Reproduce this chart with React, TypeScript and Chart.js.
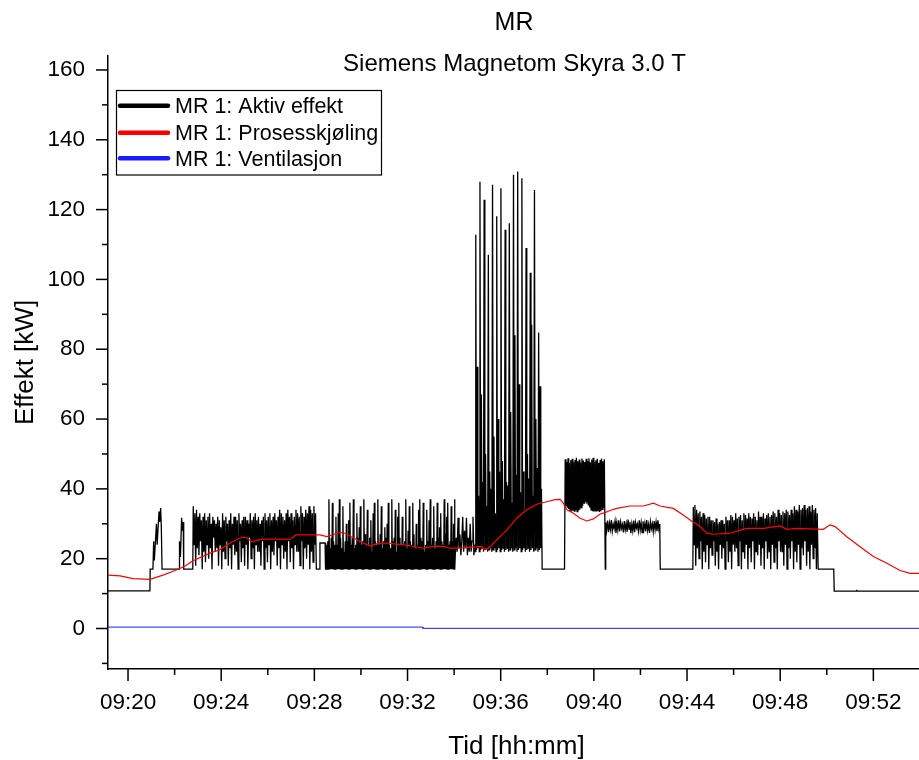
import { useEffect, useRef } from "react";
import { Chart, registerables } from "chart.js";

Chart.register(...registerables);

// Tid er angitt i minutter etter kl. 09:00
const xMin = 19.14;
const xMax = 53.96;
const yMin = -11.6;
const yMax = 164;

const tittel = "MR";
const undertittel = "Siemens Magnetom Skyra 3.0 T";
const xTittel = "Tid [hh:mm]";
const yTittel = "Effekt [kW]";
const serieNavn = ["MR 1: Aktiv effekt", "MR 1: Prosesskjøling", "MR 1: Ventilasjon"];
const serieFarger = ["#000000", "#ff0000", "#1a1aff"];

const xTikkMinutter = [20, 24, 28, 32, 36, 40, 44, 48, 52];
const xHjelpeMinutter = [22, 26, 30, 34, 38, 42, 46, 50];
const yTikkVerdier = [0, 20, 40, 60, 80, 100, 120, 140, 160];
const yHjelpeVerdier = [-10, 10, 30, 50, 70, 90, 110, 130, 150];

// Aktiv effekt, rolige partier: [tid, kW]
const aktivRolig: [number, number][] = [
  [19.14, 10.8], [20.94, 10.8], [20.95, 17.0], [21.07, 17.0], [21.1, 25.0], [21.13, 19.5],
  [21.22, 30.0], [21.25, 24.0], [21.33, 33.5], [21.36, 30.5], [21.4, 34.5], [21.43, 29.0],
  [21.46, 17.0], [22.19, 17.0], [22.21, 25.0], [22.25, 20.5], [22.3, 31.7], [22.34, 28.0],
  [22.37, 30.5], [22.39, 17.0], [22.78, 17.0],
  [28.1, 17.0], [28.22, 17.0], [28.24, 24.5], [28.46, 24.5], [28.48, 17.0],
  [34.03, 17.0],
  [37.78, 17.0], [38.74, 17.0],
  [40.49, 17.0],
  [42.85, 17.0], [44.25, 17.0],
  [49.63, 17.0], [50.3, 17.0], [50.32, 10.7], [51.28, 10.7], [51.29, 11.1], [51.3, 10.7],
  [53.96, 10.7],
];

// Aktiv effekt under skanneserier, jevnt samplet fra start med fast steg (min)
const skann1Start = 22.8;
const skann1Steg = 0.035;
const skann1 = [
  35, 24, 33, 18, 34, 23, 32, 21, 33, 25, 31, 17, 32, 22, 33, 19, 31, 24, 32, 20,
  33, 23, 30, 17, 32, 26, 31, 22, 30, 23, 32, 18, 31, 24, 29, 17, 33, 22, 31, 20,
  32, 25, 30, 18, 31, 23, 33, 17, 30, 24, 32, 21, 32, 22, 31, 17, 33, 25, 30, 19,
  31, 23, 32, 18, 32, 24, 31, 17, 30, 26, 33, 20, 31, 23, 32, 17, 33, 24, 31, 22,
  32, 22, 30, 18, 31, 25, 32, 17, 33, 23, 31, 19, 32, 24, 33, 17, 31, 22, 32, 21,
  33, 25, 31, 18, 32, 23, 34, 17, 33, 24, 32, 20, 31, 22, 33, 17, 34, 25, 32, 19,
  33, 23, 31, 17, 32, 24, 34, 22, 33, 22, 32, 18, 35, 25, 33, 17, 32, 23, 34, 20,
  33, 24, 35, 17, 34, 22, 33, 19, 35, 24, 33, 17,
];

const skann2Start = 28.5;
const skann2Steg = 0.025;
const skann2 = [
  17, 24, 17, 25, 17, 37, 17, 23, 17, 26, 17, 36, 17, 25, 17, 24, 17, 32,
  17, 24, 17, 33, 17, 37, 17, 26, 17, 23, 17, 35, 17, 22, 17, 25, 17, 30,
  17, 25, 17, 31, 17, 36, 17, 24, 17, 26, 17, 37, 17, 23, 17, 24, 17, 33,
  17, 26, 17, 29, 17, 35, 17, 24, 17, 25, 17, 37, 17, 27, 17, 23, 17, 34,
  17, 24, 17, 26, 17, 31, 17, 22, 17, 33, 17, 36, 17, 25, 17, 24, 17, 37,
  17, 24, 17, 27, 17, 35, 17, 23, 17, 25, 17, 29, 17, 26, 17, 30, 17, 36,
  17, 24, 17, 23, 17, 37, 17, 25, 17, 26, 17, 34, 17, 22, 17, 32, 17, 36,
  17, 26, 17, 24, 17, 32, 17, 24, 17, 25, 17, 37, 17, 23, 17, 28, 17, 35,
  17, 25, 17, 24, 17, 36, 17, 27, 17, 23, 17, 30, 17, 24, 17, 34, 17, 37,
  17, 26, 17, 25, 17, 36, 17, 22, 17, 24, 17, 34, 17, 25, 17, 31, 17, 37,
  17, 24, 17, 26, 17, 35, 17, 23, 17, 25, 17, 36, 17, 26, 17, 29, 17, 33,
  17, 25, 17, 24, 17, 37, 17, 27, 17, 32, 17, 36, 17, 24, 17, 25, 17, 35,
  17, 25, 17, 30, 17, 37,
];

const skann3Start = 34.05;
const skann3Steg = 0.04;
const skann3 = [21, 26, 22, 31.7, 23, 27, 21, 25, 32, 22, 28, 23, 31.7, 21, 26, 22, 30, 22, 25, 32, 21, 24];

const skann4Start = 34.9;
const skann4Steg = 0.03;
const skann4 = [
  22, 112.8, 22.5, 75, 23, 38, 22, 128.0, 22.5, 67, 23, 42,
  22, 122.8, 22.5, 50, 23, 35, 22, 107.1, 22.5, 45, 23, 40,
  22, 127.1, 22.5, 55, 23, 33, 22, 118.1, 22.5, 60, 23, 45,
  22, 126.1, 22.5, 48, 23, 37, 22, 114.2, 22.5, 42, 23, 41,
  22, 116.1, 22.5, 62, 23, 36, 22, 130.0, 22.5, 84, 23, 44,
  22, 130.9, 22.5, 70, 23, 39, 22, 129.0, 22.5, 45, 23, 34,
  22, 109.0, 22.5, 50, 23, 43, 22, 101.9, 22.5, 87, 23, 38,
  22, 125.6, 22.5, 60, 23, 46, 22, 84.8, 22.5, 69.4, 23, 40,
];

const skann5Start = 38.77;
const skann5Steg = 0.03;
const skann5 = [
  48.5, 35.0, 47.8, 34.6, 48.8, 34.2, 47.5, 33.8, 48.2, 33.5, 48.6, 33.7, 47.6, 33.6,
  48.3, 33.9, 48.9, 33.5, 47.9, 33.8, 48.4, 34.0, 47.5, 34.6, 48.7, 35.2, 48.1, 35.9,
  47.7, 36.3, 48.6, 35.8, 48.0, 35.4, 48.8, 34.7, 47.6, 34.0, 48.4, 33.6, 48.9, 33.5,
  47.8, 33.7, 48.2, 33.5, 48.6, 33.8, 47.5, 33.4, 48.3, 33.6, 48.7, 34.1, 47.9, 34.5,
  48.5,
];

const skann6Start = 40.51;
const skann6Steg = 0.04;
const skann6 = [
  30.4, 28.1, 30.9, 27.6, 30.2, 28.4, 31.1, 27.9, 29.9, 28.6, 30.7, 27.4, 30.3, 28.2, 31.0,
  27.8, 30.5, 28.7, 29.8, 27.5, 30.8, 28.3, 30.1, 27.7, 31.2, 28.5, 30.6, 27.3, 30.0, 28.0,
  30.9, 27.6, 30.4, 28.8, 29.9, 27.9, 31.0, 28.2, 30.3, 27.5, 30.7, 28.4, 30.2, 27.8, 31.1,
  28.1, 29.8, 27.4, 30.6, 28.6, 30.0, 27.7, 30.8, 28.3, 30.5, 27.9, 31.0, 28.5, 29.9,
];

const skann7Start = 44.27;
const skann7Steg = 0.035;
const skann7 = [
  34.8, 24, 35.4, 18, 34, 23, 33, 20, 33.5, 25, 32, 17, 33, 22, 32.5, 19,
  31.5, 24, 32, 17, 32, 23, 31, 21, 31, 25, 30.5, 18, 31.5, 22, 30, 17,
  30.5, 24, 31, 20, 31, 23, 30, 17, 32, 25, 31, 19, 31, 22, 32.5, 17,
  32, 24, 31, 22, 33, 23, 31.5, 18, 32, 25, 32.5, 17, 31, 22, 33, 20,
  32.5, 24, 31.5, 17, 33, 23, 32, 19, 31.5, 25, 33, 17, 32, 22, 31, 21,
  33.5, 24, 32, 18, 32, 23, 33, 17, 31.5, 25, 32.5, 20, 33, 22, 32, 17,
  32.5, 24, 33.5, 19, 33, 23, 32, 17, 34, 25, 33, 22, 32.5, 22, 33.5, 18,
  33, 24, 34, 17, 33.5, 23, 32.5, 20, 34, 25, 33, 17, 35, 22, 34, 19,
  33.5, 24, 35.4, 17, 34, 23, 34.5, 21, 35.4, 25, 34, 18, 34.5, 22, 35, 17,
  33.5, 24, 35.4, 20, 34, 23, 34.5, 17, 33,
];

// Prosesskjøling
const kjolingTid = [
  19.14, 19.66, 20.21, 20.94, 21.5, 22.02, 22.45, 22.79, 23.52, 23.95, 24.38, 24.89, 25.11,
  25.32, 25.75, 26.96, 27.21, 28.24, 28.54, 29.1, 29.32, 29.96, 30.39, 30.73, 31.03, 31.68,
  32.11, 32.67, 33.18, 33.53, 33.83, 34.26, 34.9, 35.19, 35.33, 35.54, 35.83, 36.26, 36.69,
  37.12, 37.55, 37.98, 38.33, 38.55, 38.69, 38.84, 39.12, 39.41, 39.7, 39.98, 40.27, 40.48,
  40.7, 40.98, 41.55, 42.13, 42.56, 42.84, 43.41, 43.84, 44.13, 44.56, 44.85, 45.13, 45.85,
  46.28, 46.57, 47.28, 47.99, 48.28, 48.71, 49.85, 50.14, 50.36, 50.86, 51.43, 52.0, 52.58,
  53.15, 53.58, 53.96,
];
const kjolingKW = [
  15.3, 15.1, 14.3, 14.1, 15.3, 16.6, 17.9, 19.4, 21.6, 22.6, 24.5, 26.2, 26.0,
  24.8, 25.6, 25.6, 26.8, 26.8, 26.3, 27.5, 27.3, 24.9, 23.6, 24.4, 24.5, 24.1,
  23.7, 23.0, 23.6, 23.5, 23.0, 23.0, 23.4, 23.5, 22.5, 23.4, 25.4, 28.2, 31.6,
  34.0, 35.6, 36.3, 36.9, 37.0, 35.9, 34.0, 33.0, 31.6, 30.8, 31.4, 32.8, 33.2,
  33.8, 34.4, 35.1, 35.1, 35.9, 35.1, 34.4, 32.5, 31.1, 29.2, 27.3, 27.0, 27.3,
  28.2, 28.7, 28.7, 29.4, 28.4, 28.7, 28.4, 29.7, 29.2, 26.3, 23.4, 20.6, 18.7,
  16.6, 15.8, 15.8,
];

// Ventilasjon
const ventTid = [19.14, 32.64, 32.66, 53.96];
const ventKW = [0.4, 0.4, 0.05, 0.05];

type Pt = { x: number; y: number };

function samplet(start: number, steg: number, verdier: number[]): Pt[] {
  return verdier.map((y, i) => ({ x: start + i * steg, y }));
}

function aktivPunkter(): Pt[] {
  const pts: Pt[] = [
    ...aktivRolig.map(([x, y]) => ({ x, y })),
    ...samplet(skann1Start, skann1Steg, skann1),
    ...samplet(skann2Start, skann2Steg, skann2),
    ...samplet(skann3Start, skann3Steg, skann3),
    ...samplet(skann4Start, skann4Steg, skann4),
    ...samplet(skann5Start, skann5Steg, skann5),
    ...samplet(skann6Start, skann6Steg, skann6),
    ...samplet(skann7Start, skann7Steg, skann7),
  ];
  return pts.sort((a, b) => a.x - b.x);
}

function par(tid: number[], kw: number[]): Pt[] {
  return tid.map((x, i) => ({ x, y: kw[i] }));
}

const FONT = "'Liberation Sans', Arial, sans-serif";

function klokke(m: number): string {
  const r = Math.round(m);
  return `09:${String(r).padStart(2, "0")}`;
}

const pyntPlugin = {
  id: "pynt",
  afterDraw(chart: any) {
    const { ctx, chartArea, scales } = chart;
    const xs = scales.x;
    const ys = scales.y;
    ctx.save();
    ctx.strokeStyle = "#000";
    ctx.lineWidth = 1.5;
    ctx.lineCap = "butt";

    // Merker på y-aksen
    const yMerker = [
      ...yTikkVerdier.map((v) => [v, 12]),
      ...yHjelpeVerdier.map((v) => [v, 6]),
    ];
    for (const [v, len] of yMerker) {
      const py = ys.getPixelForValue(v);
      ctx.beginPath();
      ctx.moveTo(chartArea.left - len, py);
      ctx.lineTo(chartArea.left, py);
      ctx.stroke();
    }
    // Merker på x-aksen
    const xMerker = [
      ...xTikkMinutter.map((v) => [v, 12]),
      ...xHjelpeMinutter.map((v) => [v, 6]),
    ];
    for (const [v, len] of xMerker) {
      const px = xs.getPixelForValue(v);
      ctx.beginPath();
      ctx.moveTo(px, chartArea.bottom);
      ctx.lineTo(px, chartArea.bottom + len);
      ctx.stroke();
    }

    const midtX = (chartArea.left + chartArea.right) / 2;
    ctx.fillStyle = "#000";
    ctx.textAlign = "center";
    ctx.textBaseline = "alphabetic";
    ctx.font = `25px ${FONT}`;
    ctx.fillText(tittel, 514, 30);
    ctx.font = `24px ${FONT}`;
    ctx.fillText(undertittel, 514.5, 71);

    ctx.font = `26px ${FONT}`;
    ctx.fillText(xTittel, midtX + 3, 754);
    ctx.save();
    ctx.translate(33, (chartArea.top + chartArea.bottom) / 2);
    ctx.rotate(-Math.PI / 2);
    ctx.fillText(yTittel, 0, 0);
    ctx.restore();

    // Forklaring
    ctx.lineWidth = 1.2;
    ctx.strokeStyle = "#000";
    ctx.strokeRect(116.5, 90.5, 265, 84.5);
    const radY = [105.7, 132.7, 158.3];
    ctx.font = `21.5px ${FONT}`;
    ctx.textAlign = "left";
    serieNavn.forEach((navn, i) => {
      ctx.strokeStyle = serieFarger[i];
      ctx.lineWidth = 4.5;
      ctx.lineCap = "round";
      ctx.beginPath();
      ctx.moveTo(120, radY[i]);
      ctx.lineTo(168, radY[i]);
      ctx.stroke();
      ctx.fillStyle = "#000";
      ctx.fillText(navn, 175, radY[i] + 7.5);
    });
    ctx.restore();
  },
};

export default function App() {
  const ref = useRef<HTMLCanvasElement | null>(null);

  useEffect(() => {
    if (!ref.current) return;
    Chart.defaults.font.family = FONT;
    Chart.defaults.color = "#000";
    const chart = new Chart(ref.current, {
      type: "line",
      data: {
        datasets: [
          {
            label: serieNavn[0],
            data: aktivPunkter(),
            borderColor: serieFarger[0],
            borderWidth: 1.3,
            pointRadius: 0,
            tension: 0,
            order: 2,
          },
          {
            label: serieNavn[1],
            data: par(kjolingTid, kjolingKW),
            borderColor: serieFarger[1],
            borderWidth: 1.2,
            pointRadius: 0,
            tension: 0,
            order: 0,
          },
          {
            label: serieNavn[2],
            data: par(ventTid, ventKW),
            borderColor: serieFarger[2],
            borderWidth: 1,
            pointRadius: 0,
            tension: 0,
            order: 1,
          },
        ],
      },
      options: {
        responsive: false,
        animation: false,
        parsing: false as any,
        layout: { padding: { top: 56, right: 0, left: 0, bottom: 0 } },
        plugins: {
          legend: { display: false },
          title: { display: false },
          tooltip: { enabled: false },
        },
        scales: {
          x: {
            type: "linear",
            min: xMin,
            max: xMax,
            grid: { display: false },
            border: { display: true, color: "#000", width: 1.5 },
            afterBuildTicks: (s: any) => {
              s.ticks = xTikkMinutter.map((v) => ({ value: v }));
            },
            afterFit: (s: any) => {
              s.height = 91;
            },
            ticks: {
              autoSkip: false,
              maxRotation: 0,
              padding: 12,
              font: { size: 22.5 },
              color: "#000",
              callback: (v: any) => klokke(Number(v)),
            },
          },
          y: {
            type: "linear",
            min: yMin,
            max: yMax,
            grid: { display: false },
            border: { display: true, color: "#000", width: 1.5 },
            afterBuildTicks: (s: any) => {
              s.ticks = yTikkVerdier.map((v) => ({ value: v }));
            },
            afterFit: (s: any) => {
              s.width = 108;
            },
            ticks: {
              autoSkip: false,
              padding: 15,
              font: { size: 22.5 },
              color: "#000",
              callback: (v: any) => String(v),
            },
          },
        },
      },
      plugins: [pyntPlugin],
    });
    return () => chart.destroy();
  }, []);

  return (
    <canvas
      ref={ref}
      width={919}
      height={760}
      style={{ position: "absolute", left: 0, top: 0, width: 919, height: 760 }}
    />
  );
}
